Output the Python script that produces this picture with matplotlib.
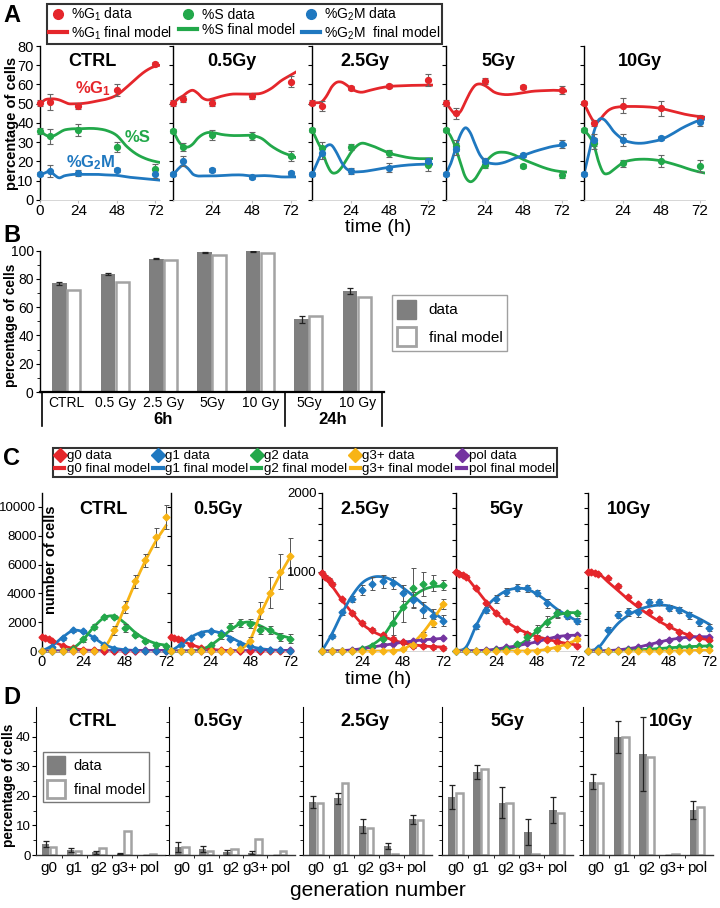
import numpy as np
import matplotlib
matplotlib.use('Agg')
import matplotlib.pyplot as plt
from matplotlib.patches import Patch
from matplotlib.lines import Line2D

plt.rcParams['font.family'] = ['Liberation Sans', 'DejaVu Sans']
plt.rcParams['mathtext.fontset'] = 'custom'
plt.rcParams['mathtext.rm'] = 'Liberation Sans'
plt.rcParams['mathtext.it'] = 'Liberation Sans:italic'
plt.rcParams['mathtext.bf'] = 'Liberation Sans:bold'

# ---------------- DATA ----------------
DOSES = ['CTRL', '0.5Gy', '2.5Gy', '5Gy', '10Gy']

# Panel A: cell cycle phase percentages
A_T_DATA = [0, 6, 24, 48, 72]
A_G1 = [[50.2, 51, 48.8, 57, 70.5], [50.2, 52.3, 50.2, 54, 61.5], [50.6, 48.8, 58.4, 59.2, 62.3],
        [50.2, 45, 62, 58.5, 57.1], [50.2, 40.2, 49, 47.6, 42.4]]
A_G1_ERR = [[1.5, 4, 1.5, 3, 1], [1.5, 1.5, 1.5, 1.5, 3], [1.5, 2.5, 1, 1, 3], [1.5, 3, 1.5, 1, 2], [1, 1.5, 4, 4, 2]]
A_S = [[36, 33, 36.4, 27.4, 16], [36, 27.7, 33.8, 33.2, 23], [36.4, 26.8, 27.4, 24.2, 18],
       [36.4, 28.2, 18.2, 17.7, 13], [36.4, 29.4, 19, 20.4, 17.7]]
A_S_ERR = [[1.5, 4, 3, 2.5, 2.5], [1, 2, 2.5, 2, 2.5], [1, 3.5, 1.5, 2, 3], [1, 3, 1.5, 1, 1.5], [1, 3, 2, 3, 3]]
A_G2M = [[13.3, 15, 13.9, 15.6, 13.5], [13.3, 20.3, 15.6, 12.1, 14.2], [13.3, 24.2, 15, 16.8, 20],
         [13.5, 26.5, 20.3, 23.4, 29.1], [13.5, 31.2, 31.2, 32, 40.3]]
A_G2M_ERR = [[1, 3, 1.5, 1, 2], [1, 2.5, 1, 1, 1], [1, 3, 1.5, 2.5, 2], [1, 3, 1.5, 1, 2], [1, 3, 3, 1, 2]]

A_T_MODEL = [0, 3, 6, 9, 12, 15, 18, 21, 24, 30, 36, 42, 48, 54, 60, 66, 72, 75]
A_G1_MODEL = [
    [50, 52, 52.5, 52.5, 52, 51, 50, 50, 50, 50.5, 51.5, 52.5, 54.5, 58.5, 63, 67, 69.5, 70],
    [50, 52.5, 54, 56, 57, 55.5, 53, 52, 52.5, 54, 55, 55, 55, 55.5, 58, 62, 65, 66.5],
    [50.5, 50.5, 51, 54, 58.5, 61, 61.3, 60, 58, 56, 57, 58.2, 59, 59.3, 59.5, 59.6, 59.7, 59.7],
    [50.5, 47, 44.5, 46, 51, 56, 59.5, 60.3, 59.5, 56, 54.8, 55, 55.8, 56.5, 56.8, 57, 56.8, 56.6],
    [50.2, 45, 41, 41, 44, 46.5, 47.8, 48.3, 48.5, 48.6, 48.5, 48.2, 47.5, 46.3, 45, 44, 43.3, 43]]
A_S_MODEL = [
    [36, 34, 33, 33.5, 35, 36.3, 36.8, 37, 37, 37.2, 37, 36, 33.5, 28, 24, 21.5, 20, 19.5],
    [36, 31, 28, 27.5, 29, 32, 34, 35, 35, 34, 33.5, 33.5, 33.5, 32, 28, 25, 23, 22],
    [36.5, 31, 26, 19, 14.5, 14.2, 16.5, 20.5, 24.5, 29.3, 28.5, 26.5, 24.3, 23, 22, 21.5, 21.5, 21.5],
    [36.5, 33, 27, 19, 12, 9.5, 11, 15, 19, 24, 24.8, 23.5, 21, 19, 17, 15.5, 14.7, 14.5],
    [36.5, 33.5, 29, 20, 14.2, 13.8, 15.5, 17.5, 19.3, 20.8, 21.2, 21, 20.3, 19, 17.5, 15.8, 14.5, 14]]
A_G2M_MODEL = [
    [13, 14, 15, 13, 11.5, 12.5, 13, 13.3, 13.3, 13.3, 13.3, 13, 12.8, 12, 11.5, 11, 10.5, 10.3],
    [13, 16, 18, 16.5, 13.5, 12.5, 12.5, 12.5, 12.5, 12.7, 13, 13, 12.5, 12.7, 12.5, 12, 12, 12],
    [13.3, 19, 24.5, 28, 28.5, 25, 20, 16.5, 15, 14.7, 15.3, 16.2, 17, 17.7, 18.2, 18.5, 18.6, 18.6],
    [13.5, 19, 27, 34, 37.5, 35, 29, 23.5, 20.5, 18.8, 19.5, 21.5, 23.2, 25, 26.5, 27.8, 28.5, 28.7],
    [13.5, 24, 35, 41.5, 42, 39.5, 36, 33.5, 31.5, 29.8, 29.5, 30.3, 31.5, 34, 37, 39.5, 41.5, 42]]

# Panel B: arrested cells
B_LABELS = ['CTRL', '0.5 Gy', '2.5 Gy', '5Gy', '10 Gy', '5Gy', '10 Gy']
B_DATA = [77, 83.5, 94.2, 99, 99.6, 51.5, 71.5]
B_ERR = [1, 1, 0.3, 0.3, 0.3, 2.5, 2]
B_MODEL = [72.5, 77.5, 93.5, 97.2, 98.7, 53.5, 67.5]
B_GROUPS = ['6h', '24h']

# Panel C: cells per generation
C_T = [0, 6, 12, 18, 24, 30, 36, 42, 48, 54, 60, 66, 72]
C_T0 = [0, 2, 4, 6, 12, 18, 24, 30, 36, 42, 48, 54, 60, 66, 72]
C_G0_DATA = [
    [980, 900, 800, 690, 380, 180, 80, 40, 20, 10, 5, 5, 5, 5, 5],
    [1000, 920, 840, 740, 440, 230, 110, 60, 30, 15, 10, 5, 5, 5, 5],
    [990, 935, 890, 850, 650, 475, 350, 270, 200, 150, 110, 60, 60, 50, 40],
    [1000, 975, 955, 935, 790, 600, 475, 380, 275, 220, 170, 145, 115, 85, 65],
    [1000, 995, 990, 970, 915, 820, 685, 590, 495, 410, 315, 245, 200, 170, 140]]
C_G0_ERR = [40, 40, 25, 20, 20]
C_G0_MODEL = [
    [1000, 680, 380, 180, 80, 40, 20, 10, 5, 5, 5, 5, 5],
    [1000, 740, 450, 240, 120, 60, 30, 15, 10, 5, 5, 5, 5],
    [1000, 820, 640, 480, 340, 250, 190, 140, 105, 80, 65, 55, 50],
    [1000, 930, 780, 620, 480, 370, 290, 230, 185, 150, 120, 95, 75],
    [1000, 980, 870, 760, 650, 550, 460, 380, 310, 250, 200, 165, 140]]
C_G1_DATA = [
    [0, 300, 870, 1430, 1370, 870, 400, 170, 90, 50, 30, 20, 10],
    [0, 390, 900, 1200, 1390, 1250, 860, 510, 320, 160, 90, 50, 30],
    [0, 190, 490, 660, 770, 850, 880, 860, 730, 640, 520, 440, 380],
    [0, 10, 310, 520, 660, 750, 800, 790, 735, 600, 475, 440, 380],
    [0, 35, 270, 460, 495, 495, 620, 620, 540, 520, 450, 360, 295]]
C_G1_ERR = [
    [0, 60, 80, 100, 100, 80, 60, 40, 30, 20, 20, 20, 10],
    [0, 60, 80, 100, 100, 100, 80, 60, 40, 30, 20, 20, 10],
    [0, 20, 30, 40, 60, 80, 80, 80, 100, 100, 100, 90, 70],
    [0, 10, 30, 40, 50, 50, 40, 40, 40, 60, 60, 40, 40],
    [0, 10, 30, 40, 50, 60, 40, 40, 40, 40, 40, 40, 40]]
C_G1_MODEL = [
    [0, 380, 950, 1420, 1330, 930, 460, 200, 90, 40, 20, 10, 5],
    [0, 450, 950, 1280, 1380, 1250, 950, 600, 330, 170, 90, 50, 30],
    [0, 220, 480, 700, 860, 930, 935, 890, 800, 700, 590, 490, 400],
    [0, 50, 320, 550, 680, 760, 790, 780, 720, 630, 530, 450, 380],
    [0, 40, 200, 350, 450, 520, 560, 578, 570, 530, 470, 410, 340]]
C_G2_DATA = [
    [0, 0, 20, 150, 800, 1700, 2350, 2380, 1600, 1100, 700, 420, 340],
    [0, 0, 20, 100, 400, 1100, 1670, 1950, 1900, 1450, 1450, 970, 860],
    [0, 0, 0, 5, 20, 60, 150, 350, 560, 800, 850, 860, 830],
    [0, 0, 0, 0, 10, 30, 90, 180, 265, 370, 475, 475, 475],
    [0, 0, 0, 0, 10, 15, 20, 30, 40, 50, 55, 60, 65]]
C_G2_ERR = [
    [0, 0, 20, 60, 150, 200, 150, 150, 250, 150, 120, 100, 80],
    [0, 0, 20, 60, 150, 250, 300, 300, 300, 300, 300, 300, 300],
    [0, 0, 0, 5, 10, 20, 50, 150, 200, 250, 150, 100, 60],
    [0, 0, 0, 0, 5, 10, 20, 40, 60, 70, 40, 30, 30],
    [0, 0, 0, 0, 5, 5, 5, 10, 10, 10, 10, 10, 10]]
C_G2_MODEL = [
    [0, 0, 30, 200, 800, 1650, 2300, 2420, 1950, 1300, 820, 530, 400],
    [0, 0, 20, 100, 400, 900, 1450, 1900, 2000, 1750, 1400, 1100, 900],
    [0, 0, 0, 10, 30, 80, 180, 360, 540, 680, 770, 810, 820],
    [0, 0, 0, 0, 10, 25, 60, 140, 250, 370, 450, 480, 485],
    [0, 0, 0, 0, 10, 15, 22, 30, 40, 48, 55, 60, 65]]
C_G3_DATA = [
    [0, 0, 0, 0, 0, 0, 280, 1430, 3050, 4840, 6300, 7900, 9300],
    [0, 0, 0, 0, 0, 0, 0, 150, 700, 2800, 4050, 5500, 6570],
    [0, 0, 0, 0, 0, 0, 0, 0, 20, 80, 200, 350, 590],
    [0, 0, 0, 0, 0, 0, 0, 0, 5, 20, 40, 80, 150],
    [0, 0, 0, 0, 0, 0, 0, 0, 0, 5, 5, 10, 10]]
C_G3_ERR = [
    [0, 0, 0, 0, 0, 0, 100, 300, 400, 450, 450, 650, 800],
    [0, 0, 0, 0, 0, 0, 0, 100, 300, 600, 1100, 1200, 1250],
    [0, 0, 0, 0, 0, 0, 0, 0, 10, 20, 40, 50, 60],
    [0, 0, 0, 0, 0, 0, 0, 0, 5, 5, 10, 10, 20],
    [0, 0, 0, 0, 0, 0, 0, 0, 0, 5, 5, 5, 5]]
C_G3_MODEL = [
    [0, 0, 0, 0, 0, 0, 200, 1400, 3000, 4700, 6250, 7600, 8700],
    [0, 0, 0, 0, 0, 0, 0, 100, 800, 2500, 3950, 5300, 6500],
    [0, 0, 0, 0, 0, 0, 0, 5, 20, 100, 230, 400, 580],
    [0, 0, 0, 0, 0, 0, 0, 0, 5, 20, 50, 90, 140],
    [0, 0, 0, 0, 0, 0, 0, 0, 0, 3, 5, 8, 10]]
C_POL_DATA = [
    [0, 0, 0, 0, 5, 10, 15, 20, 25, 30, 35, 40, 45],
    [0, 0, 0, 0, 5, 10, 15, 20, 25, 30, 35, 40, 45],
    [0, 0, 5, 15, 30, 50, 70, 90, 110, 125, 140, 150, 160],
    [0, 0, 5, 10, 25, 45, 70, 95, 120, 150, 180, 195, 200],
    [0, 0, 5, 15, 30, 50, 80, 110, 140, 160, 175, 180, 180]]
C_POL_MODEL = [
    [0, 0, 0, 0, 5, 10, 15, 20, 25, 30, 35, 40, 45],
    [0, 0, 0, 0, 5, 10, 15, 20, 25, 30, 35, 40, 45],
    [0, 0, 5, 15, 30, 50, 70, 90, 110, 125, 140, 150, 160],
    [0, 0, 5, 10, 25, 45, 65, 90, 115, 150, 180, 195, 200],
    [0, 0, 5, 15, 30, 50, 80, 110, 140, 160, 175, 180, 180]]

# Panel D: generation distribution (%)
D_GENS = ['g0', 'g1', 'g2', 'g3+', 'pol']
D_DATA = [[3.7, 1.7, 1.0, 0.4, 0.1], [2.8, 2.0, 0.9, 0.8, 0.0], [18.0, 19.1, 9.8, 3.0, 12.1],
          [19.7, 28.0, 17.7, 7.8, 15.2], [24.7, 40.0, 34.1, 0.0, 15.2]]
D_ERR = [[1.0, 0.6, 0.5, 0.2, 0.0], [1.7, 1.0, 0.8, 0.6, 0.0], [2.0, 2.0, 2.5, 1.0, 1.5],
         [4.1, 2.3, 5.3, 4.4, 4.5], [2.5, 5.4, 12.4, 0.0, 3.0]]
D_MODEL = [[2.8, 1.5, 2.5, 8.1, 0.2], [2.8, 1.5, 1.9, 5.4, 1.35], [17.5, 24.2, 9.2, 0.3, 11.8],
           [21.1, 28.9, 17.7, 0.5, 14.3], [24.4, 40.0, 33.2, 0.3, 16.1]]

# ---------------- STYLE ----------------
RED, GREEN, BLUE = '#e5262b', '#22a84a', '#1f78c0'
YELLOW, PURPLE = '#f8b415', '#7434a0'
GREY, EDGE = '#7f7f7f', '#a3a3a3'

W, H = 720, 908
fig = plt.figure(figsize=(7.2, 9.08), dpi=100)


def axpx(l, t, r, b):
    return fig.add_axes([l / W, 1 - b / H, (r - l) / W, (b - t) / H])


def fpx(x, y):
    return x / W, 1 - y / H


def smooth(t, y, n=10):
    t = np.asarray(t, float)
    y = np.asarray(y, float)
    m = np.gradient(y, t)
    s = np.linspace(0, 1, n, endpoint=False)
    h00 = 2 * s**3 - 3 * s**2 + 1
    h10 = s**3 - 2 * s**2 + s
    h01 = -2 * s**3 + 3 * s**2
    h11 = s**3 - s**2
    ts, ys = [], []
    for i in range(len(t) - 1):
        h = t[i + 1] - t[i]
        ts.append(t[i] + s * h)
        ys.append(h00 * y[i] + h10 * h * m[i] + h01 * y[i + 1] + h11 * h * m[i + 1])
    ts.append([t[-1]])
    ys.append([y[-1]])
    return np.concatenate(ts), np.concatenate(ys)


def base_style(ax, labelsize=10):
    for s in ['top', 'right']:
        ax.spines[s].set_visible(False)
    ax.spines['left'].set_color('black')
    ax.spines['left'].set_linewidth(1.0)
    ax.tick_params(axis='both', direction='out', length=3, width=0.8, labelsize=labelsize, pad=2)


# ---------------- PANEL A ----------------
A_BOX = [(40, 160), (173, 296), (312, 433), (446, 567), (584, 705)]
A_TITLE_X = [0.44, 0.48, 0.44, 0.43, 0.46]
for i, (l, r) in enumerate(A_BOX):
    ax = axpx(l, 46, r, 200)
    base_style(ax, 10.5)
    ax.spines['bottom'].set_color('#d0d0d0')
    ax.spines['bottom'].set_linewidth(0.6)
    ax.tick_params(axis='x', length=2, color='#c0c0c0', pad=1, labelsize=11)
    ax.tick_params(axis='y', pad=1.5)
    ax.set_xlim(0, 75)
    ax.set_ylim(0, 80)
    for model, data, err, c in [(A_G1_MODEL, A_G1, A_G1_ERR, RED), (A_S_MODEL, A_S, A_S_ERR, GREEN),
                                (A_G2M_MODEL, A_G2M, A_G2M_ERR, BLUE)]:
        tx, ty = smooth(A_T_MODEL, model[i])
        ax.plot(tx, ty, color=c, lw=2.0, zorder=2)
        ax.errorbar(A_T_DATA, data[i], yerr=err[i], fmt='o', ms=4.2, color=c, ecolor='#666666',
                    elinewidth=0.8, capsize=2, capthick=0.8, zorder=3, clip_on=False)
    ax.set_yticks(range(0, 81, 10))
    if i == 0:
        ax.set_xticks([0, 24, 48, 72])
    else:
        ax.set_xticks([24, 48, 72])
        ax.set_yticklabels([])
    ax.text(A_TITLE_X[i], 0.9, DOSES[i], transform=ax.transAxes, ha='center', va='center',
            fontsize=13, weight='bold')
    if i == 0:
        ax.text(33, 58, r'%G$_\mathbf{1}$', color=RED, fontsize=12, weight='bold', ha='center', va='center')
        ax.text(61, 32.7, '%S', color=GREEN, fontsize=12, weight='bold', ha='center', va='center')
        ax.text(32, 19.5, r'%G$_\mathbf{2}$M', color=BLUE, fontsize=12, weight='bold', ha='center', va='center')

fig.text(*fpx(12, 123), 'percentage of cells', rotation=90, ha='center', va='center',
         fontsize=10.5, weight='bold')
fig.text(*fpx(378, 227), 'time (h)', ha='center', va='center', fontsize=14)

a_handles = [
    Line2D([], [], ls='none', marker='o', ms=7, color=RED),
    Line2D([], [], lw=3, color=RED),
    Line2D([], [], ls='none', marker='o', ms=7, color=GREEN),
    Line2D([], [], lw=3, color=GREEN),
    Line2D([], [], ls='none', marker='o', ms=7, color=BLUE),
    Line2D([], [], lw=3, color=BLUE)]
a_labels = ['%G$_1$ data', '%G$_1$ final model', '%S data', '%S final model',
            '%G$_2$M data', '%G$_2$M  final model']
legA = fig.legend(a_handles, a_labels, ncol=3, loc='upper left', bbox_to_anchor=fpx(47, 4),
                  frameon=True, fancybox=False, fontsize=10, handlelength=1.3, handletextpad=0.3,
                  columnspacing=0.5, borderpad=0.15, labelspacing=0.05, borderaxespad=0)
legA.get_frame().set_edgecolor('black')
legA.get_frame().set_linewidth(1.5)

fig.text(*fpx(12, 15), 'A', fontsize=17, weight='bold', ha='center', va='center')

# ---------------- PANEL B ----------------
axb = axpx(40, 250.7, 384, 392)
base_style(axb, 10)
axb.spines['bottom'].set_linewidth(1.6)
axb.tick_params(axis='y', pad=1.5)
axb.set_xlim(-0.55, 6.55)
axb.set_ylim(0, 100)
xb = np.arange(len(B_LABELS))
axb.bar(xb - 0.15, B_DATA, width=0.3, color=GREY, zorder=2)
axb.bar(xb + 0.145, B_MODEL, width=0.27, color='white', edgecolor=EDGE, linewidth=1.8, zorder=2)
axb.errorbar(xb - 0.15, B_DATA, yerr=B_ERR, fmt='none', ecolor='#222222', elinewidth=0.9,
             capsize=2, capthick=0.9, zorder=3)
axb.set_yticks(range(0, 101, 20))
axb.set_yticks(range(10, 100, 20), minor=True)
axb.tick_params(axis='y', which='minor', length=2.5)
axb.set_xticks(xb)
axb.set_xticklabels(B_LABELS, fontsize=10)
axb.tick_params(axis='x', length=0, pad=3)
for xv in [-0.5, 4.5, 6.5]:
    axb.plot([xv, xv], [0, -24], color='black', lw=1.2, clip_on=False)
axb.text(2, -19.5, B_GROUPS[0], ha='center', va='center', fontsize=12, weight='bold')
axb.text(5.5, -19.5, B_GROUPS[1], ha='center', va='center', fontsize=12, weight='bold')
fig.text(*fpx(11, 325), 'percentage of cells', rotation=90, ha='center', va='center',
         fontsize=9.8, weight='bold')
legB = fig.legend([Patch(facecolor=GREY, edgecolor=GREY),
                   Patch(facecolor='white', edgecolor=EDGE, linewidth=2)],
                  ['data', 'final model'], loc='upper left', bbox_to_anchor=fpx(392, 295),
                  frameon=True, fancybox=False, fontsize=11, handlelength=1.3, handleheight=1.6,
                  handletextpad=0.8, borderpad=0.3, labelspacing=0.5, borderaxespad=0)
legB.get_frame().set_edgecolor('#888888')
legB.get_frame().set_linewidth(1.0)
fig.text(*fpx(12, 236), 'B', fontsize=17, weight='bold', ha='center', va='center')

# ---------------- PANEL C ----------------
C_BOX = [(42, 167.7), (171, 291.6), (322, 444.7), (456, 578.7), (588, 710.7)]
C_TITLE_X = [0.49, 0.39, 0.35, 0.41, 0.33]
for i, (l, r) in enumerate(C_BOX):
    ax = axpx(l, 492.5, r, 651)
    base_style(ax, 9.5)
    ax.spines['bottom'].set_color('#d0d0d0')
    ax.spines['bottom'].set_linewidth(0.6)
    ax.tick_params(axis='x', length=0, pad=3, labelsize=10.5)
    ax.tick_params(axis='y', pad=1)
    ax.set_xlim(0, 73)
    if i < 2:
        ax.set_ylim(0, 11000)
        ax.set_yticks(range(0, 10001, 2000))
    else:
        ax.set_ylim(0, 2000)
        ax.set_yticks(range(0, 2001, 200))
    series = [(C_G0_MODEL, RED), (C_G1_MODEL, BLUE), (C_G2_MODEL, GREEN), (C_G3_MODEL, YELLOW),
              (C_POL_MODEL, PURPLE)]
    for model, c in series:
        tx, ty = smooth(C_T, model[i])
        ax.plot(tx, np.clip(ty, 0, None), color=c, lw=2.0, zorder=2, clip_on=False)
    ax.errorbar(C_T0, C_G0_DATA[i], yerr=C_G0_ERR[i], fmt='D', ms=3.5, color=RED, ecolor='#555555',
                elinewidth=0.7, capsize=1.8, capthick=0.7, zorder=3, clip_on=False)
    for data, err, c in [(C_G1_DATA, C_G1_ERR, BLUE), (C_G2_DATA, C_G2_ERR, GREEN),
                         (C_G3_DATA, C_G3_ERR, YELLOW)]:
        ax.errorbar(C_T, data[i], yerr=err[i], fmt='D', ms=3.5, color=c, ecolor='#555555',
                    elinewidth=0.7, capsize=1.8, capthick=0.7, zorder=3, clip_on=False)
    ax.plot(C_T, C_POL_DATA[i], 'D', ms=3.5, color=PURPLE, zorder=3, clip_on=False)
    if i == 0:
        ax.set_xticks([0, 24, 48, 72])
        ax.set_yticklabels([str(v) for v in range(0, 10001, 2000)])
    else:
        ax.set_xticks([24, 48, 72])
        if i == 2:
            ax.set_yticklabels(['1000' if v == 1000 else ('2000' if v == 2000 else '')
                                for v in range(0, 2001, 200)])
        else:
            ax.set_yticklabels([])
    ax.text(C_TITLE_X[i], 0.89, DOSES[i], transform=ax.transAxes, ha='center', va='center',
            fontsize=13, weight='bold')

fig.text(*fpx(51, 560), 'number of cells', rotation=90, ha='center', va='center',
         fontsize=10.5, weight='bold')
fig.text(*fpx(378, 679), 'time (h)', ha='center', va='center', fontsize=14)

c_handles, c_labels = [], []
for name, c in [('g0', RED), ('g1', BLUE), ('g2', GREEN), ('g3+', YELLOW), ('pol', PURPLE)]:
    c_handles += [Line2D([], [], ls='none', marker='D', ms=7, color=c), Line2D([], [], lw=3, color=c)]
    c_labels += [name + ' data', name + ' final model']
legC = fig.legend(c_handles, c_labels, ncol=5, loc='upper left', bbox_to_anchor=fpx(53, 448),
                  frameon=True, fancybox=False, fontsize=9.6, handlelength=0.7, handletextpad=0.2,
                  columnspacing=0.25, borderpad=0.15, labelspacing=0.05, borderaxespad=0)
legC.get_frame().set_edgecolor('black')
legC.get_frame().set_linewidth(1.5)
fig.text(*fpx(12, 458), 'C', fontsize=17, weight='bold', ha='center', va='center')

# ---------------- PANEL D ----------------
D_BOX = [(36, 165), (169, 295), (303, 432), (442, 573), (583, 713)]
D_TITLE_X = [0.44, 0.39, 0.48, 0.5, 0.68]
xd = np.arange(len(D_GENS))
for i, (l, r) in enumerate(D_BOX):
    ax = axpx(l, 707, r, 855)
    base_style(ax, 9.5)
    ax.spines['bottom'].set_color('#333333')
    ax.spines['bottom'].set_linewidth(1.0)
    ax.spines['left'].set_linewidth(0.8)
    ax.tick_params(axis='y', pad=1)
    ax.set_xlim(-0.53, 4.63)
    ax.set_ylim(0, 50)
    ax.bar(xd - 0.15, D_DATA[i], width=0.3, color=GREY, zorder=2)
    ax.bar(xd + 0.145, D_MODEL[i], width=0.27, color='white', edgecolor=EDGE, linewidth=1.8, zorder=2)
    ax.errorbar(xd - 0.15, D_DATA[i], yerr=D_ERR[i], fmt='none', ecolor='#222222', elinewidth=0.9,
                capsize=2, capthick=0.9, zorder=3)
    ax.set_xticks(xd)
    ax.set_xticklabels(D_GENS, fontsize=11)
    ax.set_xticks(xd[:-1] + 0.5, minor=True)
    ax.tick_params(axis='x', which='major', length=0, pad=4)
    ax.tick_params(axis='x', which='minor', length=2.5)
    ax.set_yticks(range(0, 41, 10))
    ax.set_yticks(range(5, 50, 10), minor=True)
    ax.tick_params(axis='y', which='minor', length=2.5)
    if i > 0:
        ax.set_yticklabels([])
    ax.text(D_TITLE_X[i], 0.9, DOSES[i], transform=ax.transAxes, ha='center', va='center',
            fontsize=13, weight='bold')

fig.text(*fpx(9, 785), 'percentage of cells', rotation=90, ha='center', va='center',
         fontsize=9.8, weight='bold')
fig.text(*fpx(378, 890), 'generation number', ha='center', va='center', fontsize=15)
legD = fig.legend([Patch(facecolor=GREY, edgecolor=GREY),
                   Patch(facecolor='white', edgecolor=EDGE, linewidth=2)],
                  ['data', 'final model'], loc='upper left', bbox_to_anchor=fpx(43, 752),
                  frameon=True, fancybox=False, fontsize=10.5, handlelength=1.2, handleheight=1.5,
                  handletextpad=0.6, borderpad=0.3, labelspacing=0.4, borderaxespad=0)
legD.get_frame().set_edgecolor('#555555')
legD.get_frame().set_linewidth(1.0)
fig.text(*fpx(12, 698), 'D', fontsize=17, weight='bold', ha='center', va='center')

fig.savefig('out.png', dpi=100)
